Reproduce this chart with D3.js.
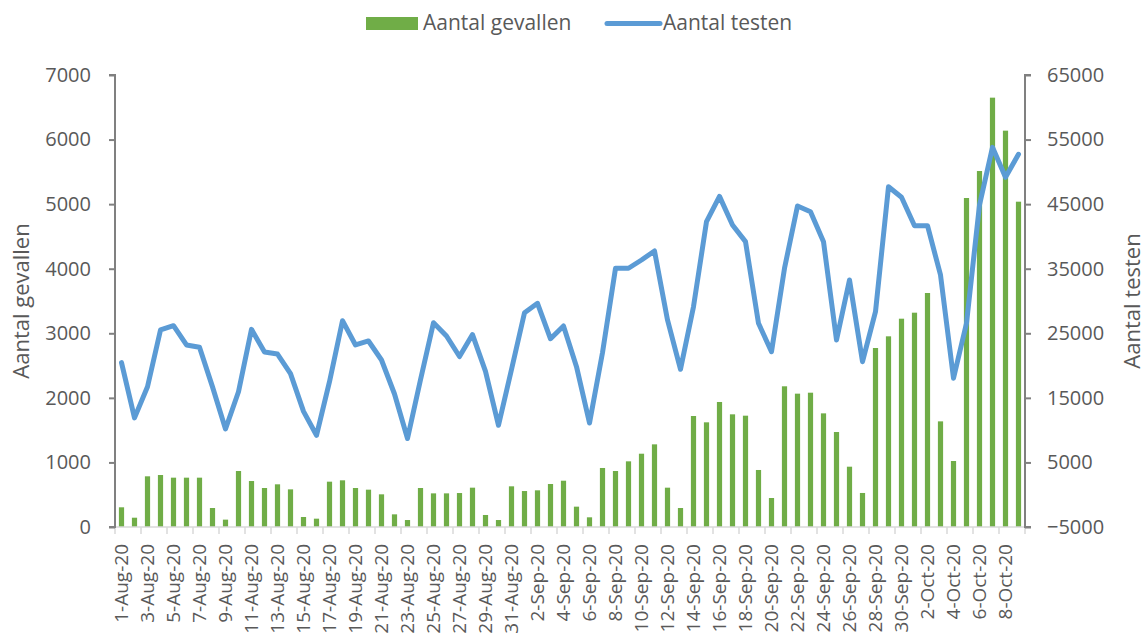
<!DOCTYPE html>
<html><head><meta charset="utf-8">
<script src="https://cdn.jsdelivr.net/npm/d3@7/dist/d3.min.js"></script>
<style>body{margin:0;background:#fff}svg{display:block}text{font-family:"Open Sans","Noto Sans",sans-serif;fill:#595959}</style>
</head><body><svg id="c" width="1148" height="637"></svg>
<script>
const months = ["Aug","Sep","Oct"];
const dates = [];
(function(){const ml=[31,30,9];ml.forEach((n,mi)=>{for(let d=1;d<=n;d++)dates.push(d+"-"+months[mi]+"-20");});})();
const gevallen = [305,144,785,805,764,764,764,294,114,867,712,604,661,583,155,129,702,723,604,578,506,196,108,604,521,521,526,609,186,108,630,557,568,666,717,315,150,914,867,1017,1135,1280,609,294,1719,1621,1936,1745,1724,883,449,2179,2065,2080,1760,1471,934,527,2772,2953,3226,3319,3624,1636,1022,5095,5513,6649,6138,5038];
const testen = [20450,11900,16730,25510,26180,23190,22830,16700,10180,15950,25610,22100,21790,18750,12900,9200,17500,26950,23190,23810,20860,15600,8700,17800,26640,24580,21400,24800,19100,10750,19400,28190,29640,24150,26130,19830,11100,22000,35070,35070,36350,37750,27060,19420,29120,42280,46200,41770,39190,26550,22150,35070,44710,43830,39190,23960,33250,20600,28340,47700,46060,41660,41660,34030,18030,26550,44870,53800,49160,52720];
const leftTicks = [0,1000,2000,3000,4000,5000,6000,7000];
const rightTicks = [-5000,5000,15000,25000,35000,45000,55000,65000];

const svg = d3.select("#c");
const L=115,R=1025,T=75,B=527;
const xc = d3.scaleBand().domain(dates).range([L,R]);
const yL = d3.scaleLinear().domain([0,7000]).range([B,T]);
const yR = d3.scaleLinear().domain([-5000,65000]).range([B,T]);

// bars
svg.append("g").selectAll("rect").data(gevallen).join("rect")
 .attr("x",(d,i)=>xc(dates[i])+xc.bandwidth()/2-2.6).attr("width",5.2)
 .attr("y",d=>yL(d)).attr("height",d=>B-yL(d)).attr("fill","#70AD47");

// line
const line = d3.line().x((d,i)=>xc(dates[i])+xc.bandwidth()/2).y(d=>yR(d));
svg.append("path").datum(testen).attr("d",line).attr("fill","none")
 .attr("stroke","#5B9BD5").attr("stroke-width",5).attr("stroke-linejoin","round").attr("stroke-linecap","round");

// bottom axis
const gb = svg.append("g");
gb.append("line").attr("x1",L).attr("x2",R).attr("y1",B).attr("y2",B).attr("stroke","#d9d9d9").attr("stroke-width",1.5);
for(let i=0;i<=dates.length;i+=2){
  const xx = i<dates.length? xc(dates[i]) : R;
  gb.append("line").attr("x1",xx).attr("x2",xx).attr("y1",B).attr("y2",B+7).attr("stroke","#d9d9d9").attr("stroke-width",1.5);
}
dates.forEach((d,i)=>{ if(i%2) return;
  const cx = xc(d)+xc.bandwidth()/2;
  gb.append("text").attr("transform",`translate(${cx},${B+17}) rotate(-90)`).attr("text-anchor","end").attr("dy","0.35em")
    .style("font-size","19px").text(d);
});

// left axis
const gl = svg.append("g").attr("transform",`translate(${L},0)`)
 .call(d3.axisLeft(yL).tickValues(leftTicks).tickFormat(d3.format("d")).tickSize(6).tickPadding(18));
gl.selectAll("path,line").attr("stroke","#808080").attr("stroke-width",2);
gl.select("path").attr("d",`M-6,${T}H0V${B}H-6`);
gl.selectAll("text").style("font-size","20px").attr("fill","#595959").attr("font-family",null);

// right axis
const gr = svg.append("g").attr("transform",`translate(${R},0)`)
 .call(d3.axisRight(yR).tickValues(rightTicks).tickFormat(d3.format("d")).tickSize(6).tickPadding(16));
gr.selectAll("path,line").attr("stroke","#808080").attr("stroke-width",2);
gr.select("path").attr("d",`M6,${T}H0V${B}H6`);
gr.selectAll("text").style("font-size","20px").attr("fill","#595959").attr("font-family",null);

// axis titles
svg.append("text").attr("transform","translate(29,301) rotate(-90)").attr("text-anchor","middle").style("font-size","22px").text("Aantal gevallen");
svg.append("text").attr("transform","translate(1140,301) rotate(-90)").attr("text-anchor","middle").style("font-size","22px").text("Aantal testen");

// legend
svg.append("rect").attr("x",366).attr("y",17).attr("width",52).attr("height",13).attr("fill","#70AD47");
svg.append("text").attr("x",423).attr("y",30).style("font-size","21px").text("Aantal gevallen");
svg.append("line").attr("x1",607).attr("x2",660).attr("y1",23.5).attr("y2",23.5).attr("stroke","#5B9BD5").attr("stroke-width",5).attr("stroke-linecap","round");
svg.append("text").attr("x",663).attr("y",30).style("font-size","21px").text("Aantal testen");
</script></body></html>
